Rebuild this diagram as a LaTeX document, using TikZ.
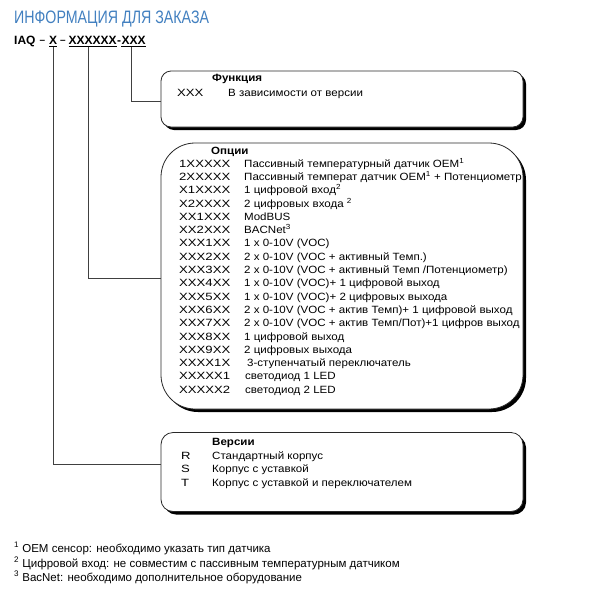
\documentclass[tikz,border=0pt]{standalone}
\usepackage{fontspec}
\setmainfont{Liberation Sans}
\newfontfamily\bodyfont[FakeStretch=1.1]{Liberation Sans}
\newfontfamily\codefont[FakeStretch=1.25]{Liberation Sans}
\newfontfamily\titlefont[FakeStretch=0.79]{Liberation Sans}
\usetikzlibrary{shadows}
\definecolor{titleblue}{RGB}{66,128,192}
\definecolor{boxline}{RGB}{40,40,40}
\begin{document}
\begin{tikzpicture}[x=1pt,y=-1pt,
  box/.style={draw=boxline, line width=0.8pt, fill=white, rounded corners=#1,
    drop shadow={shadow xshift=3pt, shadow yshift=-3pt, fill=black, opacity=1},
    inner sep=0pt, minimum width=362pt},
  txt/.style={anchor=base west, inner sep=0pt, font=\fontsize{10.5}{12}\bodyfont},
  code/.style={anchor=base west, inner sep=0pt, font=\fontsize{10.5}{12}\codefont},
  hdr/.style={anchor=base west, inner sep=0pt, font=\fontsize{10.5}{12}\bodyfont\bfseries},
  iaq/.style={anchor=base west, inner sep=0pt, font=\fontsize{12}{14}\selectfont\bfseries},
  iaqdash/.style={anchor=base west, inner sep=0pt, font=\fontsize{10}{14}\selectfont\bfseries},
  foot/.style={anchor=base west, inner sep=0pt, font=\fontsize{11.5}{13}\selectfont},
  conn/.style={draw=black!75, line width=0.7pt}
]
\useasboundingbox (0,0) rectangle (600,600);
\fill[white] (0,0) rectangle (600,600);

% title
\node[anchor=base west, inner sep=0pt, text=titleblue,
  font=\fontsize{18}{20}\titlefont] (title) at (14,23) {ИНФОРМАЦИЯ ДЛЯ ЗАКАЗА};

% order code
\node[iaq] (t1) at (14,44) {IAQ};
\node[iaqdash] (t1b) at (39.5,43.5) {–};
\node[iaq] (t2) at (49,44) {X};
\node[iaqdash] (t3) at (59.8,43.5) {–};
\node[iaq] (t4) at (68.5,44) {XXXXXX};
\node[iaq] (t5) at (t4.base east) {-};
\node[iaq] (t6) at (t5.base east) {XXX};
\foreach \n in {t2,t4,t6}
  \draw[line width=0.7pt] ([yshift=-2.5pt]\n.base west) -- ([yshift=-2.5pt]\n.base east);

% boxes
\node[box=10pt, minimum height=56pt] (box1) at (342,99) {};
\node[box=34pt, minimum height=266pt] (box2) at (342,276) {};
\node[box=12pt, minimum height=79pt] (box3) at (342,472) {};

% connectors
\draw[conn] ([xshift=-2pt,yshift=-2.5pt]t6.base) |- ([yshift=-2pt]box1.west);
\draw[conn] ([xshift=-4pt,yshift=-2.5pt]t4.base) |- ([yshift=-2pt]box2.west);
\draw[conn] ([yshift=-2.5pt]t2.base) |- ([yshift=8pt]box3.west);

% box 1
\node[hdr] (h1) at (212,81) {Функция};
\node[code] (f1c) at (177,96) {XXX};
\node[txt] (f1d) at (228,96) {В зависимости от версии};

% box 2
\node[hdr] (h2) at (211,154.5) {Опции};
\foreach \c/\d [count=\i from 0] in {
  1XXXXX/{Пассивный температурный датчик OEM\textsuperscript{1}},
  2XXXXX/{Пассивный температ датчик OEM\textsuperscript{1} + Потенциометр},
  X1XXXX/{1 цифровой вход\textsuperscript{2}},
  X2XXXX/{2 цифровых входа \textsuperscript{2}},
  XX1XXX/{ModBUS},
  XX2XXX/{BACNet\textsuperscript{3}},
  XXX1XX/{1 x 0-10V (VOC)},
  XXX2XX/{2 x 0-10V (VOC + активный Темп.)},
  XXX3XX/{2 x 0-10V (VOC + активный Темп /Потенциометр)},
  XXX4XX/{1 x 0-10V (VOC)+ 1 цифровой выход},
  XXX5XX/{1 x 0-10V (VOC)+ 2 цифровых выхода},
  XXX6XX/{2 x 0-10V (VOC + актив Темп)+ 1 цифровой выход},
  XXX7XX/{2 x 0-10V (VOC + актив Темп/Пот)+1 цифров выход},
  XXX8XX/{1 цифровой выход},
  XXX9XX/{2 цифровых выхода},
  XXXX1X/{\hspace{3pt}3-ступенчатый переключатель},
  XXXXX1/{\hspace{1pt}светодиод 1 LED},
  XXXXX2/{\hspace{1pt}светодиод 2 LED}} {
  \node[code] (oc\i) at (179,{167.1+13.3*\i}) {\c};
  \node[txt] (od\i) at (244,{167.1+13.3*\i}) {\d};
}

% box 3
\node[hdr] (h3) at (212,445) {Версии};
\node[code] (vr) at (181,459) {R};
\node[txt] (vrd) at (212,459) {Стандартный корпус};
\node[code] (vs) at (181,472.5) {S};
\node[txt] (vsd) at (212,472.5) {Корпус с уставкой};
\node[code] (vt) at (181,486) {T};
\node[txt] (vtd) at (212,486) {Корпус с уставкой и переключателем};

% footnotes
\node[foot] (fn1) at (14,552) {\textsuperscript{1} OEM сенсор: необходимо указать тип датчика};
\node[foot] (fn2) at (14,567) {\textsuperscript{2} Цифровой вход: не совместим с пассивным температурным датчиком};
\node[foot] (fn3) at (14,581) {\textsuperscript{3} BacNet: необходимо дополнительное оборудование};
\end{tikzpicture}
\end{document}
